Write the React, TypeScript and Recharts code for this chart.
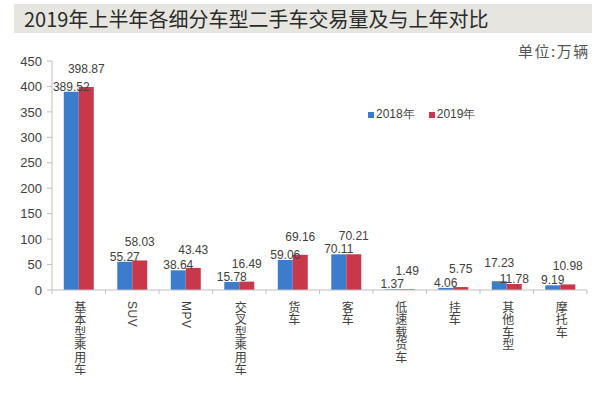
import { BarChart, Bar, XAxis, YAxis, Legend, LabelList } from 'recharts';

const categories = ['基本型乘用车', 'SUV', 'MPV', '交叉型乘用车', '货车', '客车', '低速载货车', '挂车', '其他车型', '摩托车'];
const values2018 = [389.52, 55.27, 38.64, 15.78, 59.06, 70.11, 1.37, 4.06, 17.23, 9.19];
const values2019 = [398.87, 58.03, 43.43, 16.49, 69.16, 70.21, 1.49, 5.75, 11.78, 10.98];
const yTicks = [0, 50, 100, 150, 200, 250, 300, 350, 400, 450];
const seriesNames = ['2018年', '2019年'];

const BLUE = '#3c7ccc';
const RED = '#c8384b';
const AXIS = '#bfbfbf';
const TEXT = '#404040';
const NUM_FONT = '"Liberation Sans", Arial, sans-serif';
const CJK_FONT = '"Noto Sans CJK SC", sans-serif';

const data = categories.map((name, i) => ({
  name,
  y2018: values2018[i],
  y2019: values2019[i],
}));

// vertical category labels (CJK upright, latin turned sideways)
const CategoryTick = (props: any) => {
  const { x, y, payload, index, width } = props;
  const half = width / categories.length / 2;
  return (
    <g>
      <line x1={x - half} y1={y} x2={x - half} y2={y + 4} stroke={AXIS} />
      {index === categories.length - 1 && (
        <line x1={x + half} y1={y} x2={x + half} y2={y + 4} stroke={AXIS} />
      )}
      <text
        x={x}
        y={y + 11}
        fontSize={12}
        fontFamily={`"Liberation Sans", ${CJK_FONT}`}
        fill={TEXT}
        style={{ writingMode: 'vertical-rl', letterSpacing: 0.5 }}
      >
        {payload.value}
      </text>
    </g>
  );
};

// the larger bar of each pair has its label lifted
const makeLabel = (own: number[], other: number[]) => (props: any) => {
  const { x, y, width, index, value } = props;
  const lifted = own[index] > other[index];
  return (
    <text
      x={x + width / 2}
      y={lifted ? y - 14 : y - 1}
      textAnchor="middle"
      fontSize={12}
      fontFamily={NUM_FONT}
      fill={TEXT}
    >
      {value.toFixed(2)}
    </text>
  );
};

const LegendContent = () => (
  <div style={{ display: 'flex', alignItems: 'center', fontFamily: NUM_FONT, fontSize: 12, color: TEXT }}>
    {[BLUE, RED].map((c, i) => (
      <div key={i} style={{ display: 'flex', alignItems: 'center', marginRight: 14 }}>
        <span style={{ width: 6, height: 6, background: c, display: 'inline-block', marginRight: 2 }} />
        <span>{seriesNames[i]}</span>
      </div>
    ))}
  </div>
);

export default function App() {
  return (
    <div style={{ position: 'absolute', left: 0, top: 0, width: 600, height: 397, background: '#fff' }}>
      <div
        style={{
          position: 'absolute',
          left: 14,
          top: 4,
          width: 578,
          height: 29,
          background: '#e6e5df',
        }}
      />
      <div
        style={{
          position: 'absolute',
          left: 24,
          top: 4,
          height: 29,
          lineHeight: '29px',
          fontFamily: CJK_FONT,
          fontSize: 20,
          color: '#2b2b2b',
          whiteSpace: 'nowrap',
        }}
      >
        2019年上半年各细分车型二手车交易量及与上年对比
      </div>
      <div
        style={{
          position: 'absolute',
          left: 518,
          top: 40,
          fontFamily: CJK_FONT,
          fontSize: 15,
          letterSpacing: 1.5,
          color: '#555',
          whiteSpace: 'nowrap',
        }}
      >
        单位:万辆
      </div>
      <div style={{ position: 'absolute', left: 0, top: 0 }}>
        <BarChart
          width={600}
          height={397}
          data={data}
          margin={{ top: 61, right: 13, left: 0, bottom: 0 }}
          barCategoryGap="22%"
          barGap={0}
        >
          <XAxis
            dataKey="name"
            height={107}
            interval={0}
            tickLine={false}
            tickSize={0}
            tickMargin={0}
            axisLine={{ stroke: AXIS }}
            tick={<CategoryTick />}
          />
          <YAxis
            width={52}
            domain={[0, 450]}
            ticks={yTicks}
            interval={0}
            tickSize={5}
            tickMargin={5}
            axisLine={{ stroke: AXIS }}
            tickLine={{ stroke: AXIS }}
            tick={{ fontSize: 13, fill: TEXT, fontFamily: NUM_FONT }}
          />
          <Legend
            layout="horizontal"
            verticalAlign="middle"
            align="center"
            content={<LegendContent />}
            wrapperStyle={{ top: 106, left: 368, width: 'auto' }}
          />
          <Bar dataKey="y2018" name={seriesNames[0]} fill={BLUE} isAnimationActive={false}>
            <LabelList dataKey="y2018" content={makeLabel(values2018, values2019)} />
          </Bar>
          <Bar dataKey="y2019" name={seriesNames[1]} fill={RED} isAnimationActive={false}>
            <LabelList dataKey="y2019" content={makeLabel(values2019, values2018)} />
          </Bar>
        </BarChart>
      </div>
    </div>
  );
}
